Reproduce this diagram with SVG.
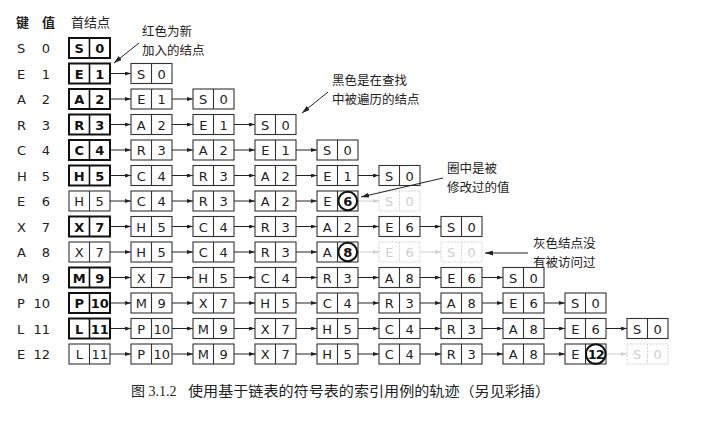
<svg xmlns="http://www.w3.org/2000/svg" width="706" height="422" viewBox="0 0 706 422">
<style>
.t{font-family:"DejaVu Sans",sans-serif;font-size:13px;text-anchor:middle;fill:#222}
.k{font-family:"DejaVu Sans",sans-serif;font-size:13px;fill:#222}
.v{text-anchor:end}
.b{font-weight:bold;fill:#111}
.g{fill:#cfcfcf}
.cj{font-family:"Noto Sans CJK SC",sans-serif;font-size:13px;fill:#222}
.cn{font-family:"Noto Sans CJK SC",sans-serif;font-size:12.5px;fill:#222}
.cap{font-family:"Liberation Serif","Noto Sans CJK SC",serif;font-size:14px;fill:#222}
.c{stroke:#222;stroke-width:1;marker-end:url(#ah)}
.cg{stroke:#d0d0d0;stroke-width:1;marker-end:url(#ahg)}
.ca{stroke:#222;stroke-width:1;fill:none;marker-end:url(#ahc)}
.ring{fill:#fff;stroke:#111;stroke-width:2}
</style>
<defs>
<marker id="ah" viewBox="0 0 6 4" refX="6" refY="2" markerWidth="6" markerHeight="4" markerUnits="userSpaceOnUse" orient="auto"><path d="M0,0L6,2L0,4z" fill="#222"/></marker>
<marker id="ahg" viewBox="0 0 6 4" refX="6" refY="2" markerWidth="6" markerHeight="4" markerUnits="userSpaceOnUse" orient="auto"><path d="M0,0L6,2L0,4z" fill="#d0d0d0"/></marker>
<marker id="ahc" viewBox="0 0 8 5" refX="8" refY="2.5" markerWidth="8" markerHeight="5" markerUnits="userSpaceOnUse" orient="auto"><path d="M0,0L8,2.5L0,5z" fill="#222"/></marker>
<g id="nb"><rect width="41" height="20" fill="#fff" stroke="#333" stroke-width="1.1"/><line x1="20.5" y1="0" x2="20.5" y2="20" stroke="#333" stroke-width="1.1"/></g>
<g id="bb"><rect width="41" height="20" fill="#fff" stroke="#111" stroke-width="2"/><line x1="20.5" y1="0" x2="20.5" y2="20" stroke="#111" stroke-width="1.6"/></g>
<g id="gb"><rect width="41" height="20" fill="#fff" stroke="#d2d2d2" stroke-width="1" stroke-dasharray="2 1.2"/><line x1="20.5" y1="0" x2="20.5" y2="20" stroke="#d2d2d2" stroke-width="1" stroke-dasharray="2 1.2"/></g>
</defs>

<g id="header">
<text class="cj b" x="16" y="27">键</text>
<text class="cj b" x="42" y="27">值</text>
<text class="cj" x="71" y="27">首结点</text>
</g>

<g id="keys">
<text class="k" x="17" y="53">S</text><text class="k v" x="50" y="53">0</text>
<text class="k" x="17" y="78.5">E</text><text class="k v" x="50" y="78.5">1</text>
<text class="k" x="17" y="104">A</text><text class="k v" x="50" y="104">2</text>
<text class="k" x="17" y="129.5">R</text><text class="k v" x="50" y="129.5">3</text>
<text class="k" x="17" y="155">C</text><text class="k v" x="50" y="155">4</text>
<text class="k" x="17" y="180.5">H</text><text class="k v" x="50" y="180.5">5</text>
<text class="k" x="17" y="206">E</text><text class="k v" x="50" y="206">6</text>
<text class="k" x="17" y="231.5">X</text><text class="k v" x="50" y="231.5">7</text>
<text class="k" x="17" y="257">A</text><text class="k v" x="50" y="257">8</text>
<text class="k" x="17" y="282.5">M</text><text class="k v" x="50" y="282.5">9</text>
<text class="k" x="17" y="308">P</text><text class="k v" x="50" y="308">10</text>
<text class="k" x="17" y="333.5">L</text><text class="k v" x="50" y="333.5">11</text>
<text class="k" x="17" y="359">E</text><text class="k v" x="50" y="359">12</text>
</g>

<g id="connectors">
<line class="c" x1="110" y1="73.5" x2="131" y2="73.5"/>
<line class="c" x1="110" y1="99" x2="131" y2="99"/><line class="c" x1="172" y1="99" x2="193" y2="99"/>
<line class="c" x1="110" y1="124.5" x2="131" y2="124.5"/><line class="c" x1="172" y1="124.5" x2="193" y2="124.5"/><line class="c" x1="234" y1="124.5" x2="255" y2="124.5"/>
<line class="c" x1="110" y1="150" x2="131" y2="150"/><line class="c" x1="172" y1="150" x2="193" y2="150"/><line class="c" x1="234" y1="150" x2="255" y2="150"/><line class="c" x1="296" y1="150" x2="317" y2="150"/>
<line class="c" x1="110" y1="175.5" x2="131" y2="175.5"/><line class="c" x1="172" y1="175.5" x2="193" y2="175.5"/><line class="c" x1="234" y1="175.5" x2="255" y2="175.5"/><line class="c" x1="296" y1="175.5" x2="317" y2="175.5"/><line class="c" x1="358" y1="175.5" x2="379" y2="175.5"/>
<line class="c" x1="110" y1="201" x2="131" y2="201"/><line class="c" x1="172" y1="201" x2="193" y2="201"/><line class="c" x1="234" y1="201" x2="255" y2="201"/><line class="c" x1="296" y1="201" x2="317" y2="201"/><line class="cg" x1="358" y1="201" x2="379" y2="201"/>
<line class="c" x1="110" y1="226.5" x2="131" y2="226.5"/><line class="c" x1="172" y1="226.5" x2="193" y2="226.5"/><line class="c" x1="234" y1="226.5" x2="255" y2="226.5"/><line class="c" x1="296" y1="226.5" x2="317" y2="226.5"/><line class="c" x1="358" y1="226.5" x2="379" y2="226.5"/><line class="c" x1="420" y1="226.5" x2="441" y2="226.5"/>
<line class="c" x1="110" y1="252" x2="131" y2="252"/><line class="c" x1="172" y1="252" x2="193" y2="252"/><line class="c" x1="234" y1="252" x2="255" y2="252"/><line class="c" x1="296" y1="252" x2="317" y2="252"/><line class="cg" x1="358" y1="252" x2="379" y2="252"/><line class="cg" x1="420" y1="252" x2="441" y2="252"/>
<line class="c" x1="110" y1="277.5" x2="131" y2="277.5"/><line class="c" x1="172" y1="277.5" x2="193" y2="277.5"/><line class="c" x1="234" y1="277.5" x2="255" y2="277.5"/><line class="c" x1="296" y1="277.5" x2="317" y2="277.5"/><line class="c" x1="358" y1="277.5" x2="379" y2="277.5"/><line class="c" x1="420" y1="277.5" x2="441" y2="277.5"/><line class="c" x1="482" y1="277.5" x2="503" y2="277.5"/>
<line class="c" x1="110" y1="303" x2="131" y2="303"/><line class="c" x1="172" y1="303" x2="193" y2="303"/><line class="c" x1="234" y1="303" x2="255" y2="303"/><line class="c" x1="296" y1="303" x2="317" y2="303"/><line class="c" x1="358" y1="303" x2="379" y2="303"/><line class="c" x1="420" y1="303" x2="441" y2="303"/><line class="c" x1="482" y1="303" x2="503" y2="303"/><line class="c" x1="544" y1="303" x2="565" y2="303"/>
<line class="c" x1="110" y1="328.5" x2="131" y2="328.5"/><line class="c" x1="172" y1="328.5" x2="193" y2="328.5"/><line class="c" x1="234" y1="328.5" x2="255" y2="328.5"/><line class="c" x1="296" y1="328.5" x2="317" y2="328.5"/><line class="c" x1="358" y1="328.5" x2="379" y2="328.5"/><line class="c" x1="420" y1="328.5" x2="441" y2="328.5"/><line class="c" x1="482" y1="328.5" x2="503" y2="328.5"/><line class="c" x1="544" y1="328.5" x2="565" y2="328.5"/><line class="c" x1="606" y1="328.5" x2="627" y2="328.5"/>
<line class="c" x1="110" y1="354" x2="131" y2="354"/><line class="c" x1="172" y1="354" x2="193" y2="354"/><line class="c" x1="234" y1="354" x2="255" y2="354"/><line class="c" x1="296" y1="354" x2="317" y2="354"/><line class="c" x1="358" y1="354" x2="379" y2="354"/><line class="c" x1="420" y1="354" x2="441" y2="354"/><line class="c" x1="482" y1="354" x2="503" y2="354"/><line class="c" x1="544" y1="354" x2="565" y2="354"/><line class="cg" x1="606" y1="354" x2="627" y2="354"/>
</g>

<!-- row 0 -->
<g id="n0_0" transform="translate(69,38)"><use href="#bb"/><text class="t b" x="10.25" y="15">S</text><text class="t b" x="30.75" y="15">0</text></g>
<!-- row 1 -->
<g id="n1_0" transform="translate(69,63.5)"><use href="#bb"/><text class="t b" x="10.25" y="15">E</text><text class="t b" x="30.75" y="15">1</text></g>
<g id="n1_1" transform="translate(131,63.5)"><use href="#nb"/><text class="t" x="10.25" y="15">S</text><text class="t" x="30.75" y="15">0</text></g>
<!-- row 2 -->
<g id="n2_0" transform="translate(69,89)"><use href="#bb"/><text class="t b" x="10.25" y="15">A</text><text class="t b" x="30.75" y="15">2</text></g>
<g id="n2_1" transform="translate(131,89)"><use href="#nb"/><text class="t" x="10.25" y="15">E</text><text class="t" x="30.75" y="15">1</text></g>
<g id="n2_2" transform="translate(193,89)"><use href="#nb"/><text class="t" x="10.25" y="15">S</text><text class="t" x="30.75" y="15">0</text></g>
<!-- row 3 -->
<g id="n3_0" transform="translate(69,114.5)"><use href="#bb"/><text class="t b" x="10.25" y="15">R</text><text class="t b" x="30.75" y="15">3</text></g>
<g id="n3_1" transform="translate(131,114.5)"><use href="#nb"/><text class="t" x="10.25" y="15">A</text><text class="t" x="30.75" y="15">2</text></g>
<g id="n3_2" transform="translate(193,114.5)"><use href="#nb"/><text class="t" x="10.25" y="15">E</text><text class="t" x="30.75" y="15">1</text></g>
<g id="n3_3" transform="translate(255,114.5)"><use href="#nb"/><text class="t" x="10.25" y="15">S</text><text class="t" x="30.75" y="15">0</text></g>
<!-- row 4 -->
<g id="n4_0" transform="translate(69,140)"><use href="#bb"/><text class="t b" x="10.25" y="15">C</text><text class="t b" x="30.75" y="15">4</text></g>
<g id="n4_1" transform="translate(131,140)"><use href="#nb"/><text class="t" x="10.25" y="15">R</text><text class="t" x="30.75" y="15">3</text></g>
<g id="n4_2" transform="translate(193,140)"><use href="#nb"/><text class="t" x="10.25" y="15">A</text><text class="t" x="30.75" y="15">2</text></g>
<g id="n4_3" transform="translate(255,140)"><use href="#nb"/><text class="t" x="10.25" y="15">E</text><text class="t" x="30.75" y="15">1</text></g>
<g id="n4_4" transform="translate(317,140)"><use href="#nb"/><text class="t" x="10.25" y="15">S</text><text class="t" x="30.75" y="15">0</text></g>
<!-- row 5 -->
<g id="n5_0" transform="translate(69,165.5)"><use href="#bb"/><text class="t b" x="10.25" y="15">H</text><text class="t b" x="30.75" y="15">5</text></g>
<g id="n5_1" transform="translate(131,165.5)"><use href="#nb"/><text class="t" x="10.25" y="15">C</text><text class="t" x="30.75" y="15">4</text></g>
<g id="n5_2" transform="translate(193,165.5)"><use href="#nb"/><text class="t" x="10.25" y="15">R</text><text class="t" x="30.75" y="15">3</text></g>
<g id="n5_3" transform="translate(255,165.5)"><use href="#nb"/><text class="t" x="10.25" y="15">A</text><text class="t" x="30.75" y="15">2</text></g>
<g id="n5_4" transform="translate(317,165.5)"><use href="#nb"/><text class="t" x="10.25" y="15">E</text><text class="t" x="30.75" y="15">1</text></g>
<g id="n5_5" transform="translate(379,165.5)"><use href="#nb"/><text class="t" x="10.25" y="15">S</text><text class="t" x="30.75" y="15">0</text></g>
<!-- row 6 -->
<g id="n6_0" transform="translate(69,191)"><use href="#nb"/><text class="t" x="10.25" y="15">H</text><text class="t" x="30.75" y="15">5</text></g>
<g id="n6_1" transform="translate(131,191)"><use href="#nb"/><text class="t" x="10.25" y="15">C</text><text class="t" x="30.75" y="15">4</text></g>
<g id="n6_2" transform="translate(193,191)"><use href="#nb"/><text class="t" x="10.25" y="15">R</text><text class="t" x="30.75" y="15">3</text></g>
<g id="n6_3" transform="translate(255,191)"><use href="#nb"/><text class="t" x="10.25" y="15">A</text><text class="t" x="30.75" y="15">2</text></g>
<g id="n6_4" transform="translate(317,191)"><use href="#nb"/><circle class="ring" cx="30.75" cy="10" r="9.3"/><text class="t" x="10.25" y="15">E</text><text class="t b" x="30.75" y="15">6</text></g>
<g id="n6_5" transform="translate(379,191)"><use href="#gb"/><text class="t g" x="10.25" y="15">S</text><text class="t g" x="30.75" y="15">0</text></g>
<!-- row 7 -->
<g id="n7_0" transform="translate(69,216.5)"><use href="#bb"/><text class="t b" x="10.25" y="15">X</text><text class="t b" x="30.75" y="15">7</text></g>
<g id="n7_1" transform="translate(131,216.5)"><use href="#nb"/><text class="t" x="10.25" y="15">H</text><text class="t" x="30.75" y="15">5</text></g>
<g id="n7_2" transform="translate(193,216.5)"><use href="#nb"/><text class="t" x="10.25" y="15">C</text><text class="t" x="30.75" y="15">4</text></g>
<g id="n7_3" transform="translate(255,216.5)"><use href="#nb"/><text class="t" x="10.25" y="15">R</text><text class="t" x="30.75" y="15">3</text></g>
<g id="n7_4" transform="translate(317,216.5)"><use href="#nb"/><text class="t" x="10.25" y="15">A</text><text class="t" x="30.75" y="15">2</text></g>
<g id="n7_5" transform="translate(379,216.5)"><use href="#nb"/><text class="t" x="10.25" y="15">E</text><text class="t" x="30.75" y="15">6</text></g>
<g id="n7_6" transform="translate(441,216.5)"><use href="#nb"/><text class="t" x="10.25" y="15">S</text><text class="t" x="30.75" y="15">0</text></g>
<!-- row 8 -->
<g id="n8_0" transform="translate(69,242)"><use href="#nb"/><text class="t" x="10.25" y="15">X</text><text class="t" x="30.75" y="15">7</text></g>
<g id="n8_1" transform="translate(131,242)"><use href="#nb"/><text class="t" x="10.25" y="15">H</text><text class="t" x="30.75" y="15">5</text></g>
<g id="n8_2" transform="translate(193,242)"><use href="#nb"/><text class="t" x="10.25" y="15">C</text><text class="t" x="30.75" y="15">4</text></g>
<g id="n8_3" transform="translate(255,242)"><use href="#nb"/><text class="t" x="10.25" y="15">R</text><text class="t" x="30.75" y="15">3</text></g>
<g id="n8_4" transform="translate(317,242)"><use href="#nb"/><circle class="ring" cx="30.75" cy="10" r="9.3"/><text class="t" x="10.25" y="15">A</text><text class="t b" x="30.75" y="15">8</text></g>
<g id="n8_5" transform="translate(379,242)"><use href="#gb"/><text class="t g" x="10.25" y="15">E</text><text class="t g" x="30.75" y="15">6</text></g>
<g id="n8_6" transform="translate(441,242)"><use href="#gb"/><text class="t g" x="10.25" y="15">S</text><text class="t g" x="30.75" y="15">0</text></g>
<!-- row 9 -->
<g id="n9_0" transform="translate(69,267.5)"><use href="#bb"/><text class="t b" x="10.25" y="15">M</text><text class="t b" x="30.75" y="15">9</text></g>
<g id="n9_1" transform="translate(131,267.5)"><use href="#nb"/><text class="t" x="10.25" y="15">X</text><text class="t" x="30.75" y="15">7</text></g>
<g id="n9_2" transform="translate(193,267.5)"><use href="#nb"/><text class="t" x="10.25" y="15">H</text><text class="t" x="30.75" y="15">5</text></g>
<g id="n9_3" transform="translate(255,267.5)"><use href="#nb"/><text class="t" x="10.25" y="15">C</text><text class="t" x="30.75" y="15">4</text></g>
<g id="n9_4" transform="translate(317,267.5)"><use href="#nb"/><text class="t" x="10.25" y="15">R</text><text class="t" x="30.75" y="15">3</text></g>
<g id="n9_5" transform="translate(379,267.5)"><use href="#nb"/><text class="t" x="10.25" y="15">A</text><text class="t" x="30.75" y="15">8</text></g>
<g id="n9_6" transform="translate(441,267.5)"><use href="#nb"/><text class="t" x="10.25" y="15">E</text><text class="t" x="30.75" y="15">6</text></g>
<g id="n9_7" transform="translate(503,267.5)"><use href="#nb"/><text class="t" x="10.25" y="15">S</text><text class="t" x="30.75" y="15">0</text></g>
<!-- row 10 -->
<g id="n10_0" transform="translate(69,293)"><use href="#bb"/><text class="t b" x="10.25" y="15">P</text><text class="t b" x="30.75" y="15">10</text></g>
<g id="n10_1" transform="translate(131,293)"><use href="#nb"/><text class="t" x="10.25" y="15">M</text><text class="t" x="30.75" y="15">9</text></g>
<g id="n10_2" transform="translate(193,293)"><use href="#nb"/><text class="t" x="10.25" y="15">X</text><text class="t" x="30.75" y="15">7</text></g>
<g id="n10_3" transform="translate(255,293)"><use href="#nb"/><text class="t" x="10.25" y="15">H</text><text class="t" x="30.75" y="15">5</text></g>
<g id="n10_4" transform="translate(317,293)"><use href="#nb"/><text class="t" x="10.25" y="15">C</text><text class="t" x="30.75" y="15">4</text></g>
<g id="n10_5" transform="translate(379,293)"><use href="#nb"/><text class="t" x="10.25" y="15">R</text><text class="t" x="30.75" y="15">3</text></g>
<g id="n10_6" transform="translate(441,293)"><use href="#nb"/><text class="t" x="10.25" y="15">A</text><text class="t" x="30.75" y="15">8</text></g>
<g id="n10_7" transform="translate(503,293)"><use href="#nb"/><text class="t" x="10.25" y="15">E</text><text class="t" x="30.75" y="15">6</text></g>
<g id="n10_8" transform="translate(565,293)"><use href="#nb"/><text class="t" x="10.25" y="15">S</text><text class="t" x="30.75" y="15">0</text></g>
<!-- row 11 -->
<g id="n11_0" transform="translate(69,318.5)"><use href="#bb"/><text class="t b" x="10.25" y="15">L</text><text class="t b" x="30.75" y="15">11</text></g>
<g id="n11_1" transform="translate(131,318.5)"><use href="#nb"/><text class="t" x="10.25" y="15">P</text><text class="t" x="30.75" y="15">10</text></g>
<g id="n11_2" transform="translate(193,318.5)"><use href="#nb"/><text class="t" x="10.25" y="15">M</text><text class="t" x="30.75" y="15">9</text></g>
<g id="n11_3" transform="translate(255,318.5)"><use href="#nb"/><text class="t" x="10.25" y="15">X</text><text class="t" x="30.75" y="15">7</text></g>
<g id="n11_4" transform="translate(317,318.5)"><use href="#nb"/><text class="t" x="10.25" y="15">H</text><text class="t" x="30.75" y="15">5</text></g>
<g id="n11_5" transform="translate(379,318.5)"><use href="#nb"/><text class="t" x="10.25" y="15">C</text><text class="t" x="30.75" y="15">4</text></g>
<g id="n11_6" transform="translate(441,318.5)"><use href="#nb"/><text class="t" x="10.25" y="15">R</text><text class="t" x="30.75" y="15">3</text></g>
<g id="n11_7" transform="translate(503,318.5)"><use href="#nb"/><text class="t" x="10.25" y="15">A</text><text class="t" x="30.75" y="15">8</text></g>
<g id="n11_8" transform="translate(565,318.5)"><use href="#nb"/><text class="t" x="10.25" y="15">E</text><text class="t" x="30.75" y="15">6</text></g>
<g id="n11_9" transform="translate(627,318.5)"><use href="#nb"/><text class="t" x="10.25" y="15">S</text><text class="t" x="30.75" y="15">0</text></g>
<!-- row 12 -->
<g id="n12_0" transform="translate(69,344)"><use href="#nb"/><text class="t" x="10.25" y="15">L</text><text class="t" x="30.75" y="15">11</text></g>
<g id="n12_1" transform="translate(131,344)"><use href="#nb"/><text class="t" x="10.25" y="15">P</text><text class="t" x="30.75" y="15">10</text></g>
<g id="n12_2" transform="translate(193,344)"><use href="#nb"/><text class="t" x="10.25" y="15">M</text><text class="t" x="30.75" y="15">9</text></g>
<g id="n12_3" transform="translate(255,344)"><use href="#nb"/><text class="t" x="10.25" y="15">X</text><text class="t" x="30.75" y="15">7</text></g>
<g id="n12_4" transform="translate(317,344)"><use href="#nb"/><text class="t" x="10.25" y="15">H</text><text class="t" x="30.75" y="15">5</text></g>
<g id="n12_5" transform="translate(379,344)"><use href="#nb"/><text class="t" x="10.25" y="15">C</text><text class="t" x="30.75" y="15">4</text></g>
<g id="n12_6" transform="translate(441,344)"><use href="#nb"/><text class="t" x="10.25" y="15">R</text><text class="t" x="30.75" y="15">3</text></g>
<g id="n12_7" transform="translate(503,344)"><use href="#nb"/><text class="t" x="10.25" y="15">A</text><text class="t" x="30.75" y="15">8</text></g>
<g id="n12_8" transform="translate(565,344)"><use href="#nb"/><circle class="ring" cx="30.75" cy="10" r="9.8"/><text class="t" x="10.25" y="15">E</text><text class="t b" x="30.75" y="15" style="letter-spacing:-1px">12</text></g>
<g id="n12_9" transform="translate(627,344)"><use href="#gb"/><text class="t g" x="10.25" y="15">S</text><text class="t g" x="30.75" y="15">0</text></g>

<g id="notes">
<text class="cn" x="142" y="36">红色为新</text>
<text class="cn" x="142" y="54.5">加入的结点</text>
<line class="ca" x1="139" y1="43" x2="114" y2="63"/>
<text class="cn" x="332" y="85">黑色是在查找</text>
<text class="cn" x="332" y="103.5">中被遍历的结点</text>
<line class="ca" x1="328" y1="92" x2="302" y2="113"/>
<text class="cn" x="447" y="173">圈中是被</text>
<text class="cn" x="447" y="191.5">修改过的值</text>
<line class="ca" x1="443" y1="178" x2="361" y2="197"/>
<text class="cn" x="533" y="248">灰色结点没</text>
<text class="cn" x="533" y="266.5">有被访问过</text>
<line class="ca" x1="528" y1="253" x2="485" y2="253"/>
</g>

<g id="caption">
<text class="cap" x="131" y="396">图 3.1.2</text>
<text class="cap" x="188" y="396" textLength="362" lengthAdjust="spacingAndGlyphs">使用基于链表的符号表的索引用例的轨迹（另见彩插）</text>
</g>
</svg>
